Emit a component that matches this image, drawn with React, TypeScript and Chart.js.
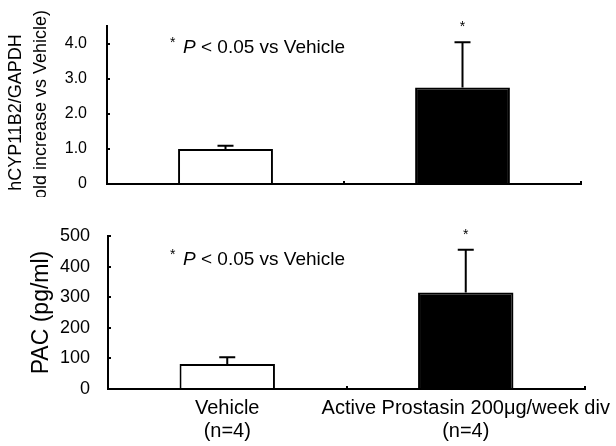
import React, { useEffect, useRef } from "react";
import { Chart, registerables } from "chart.js";

Chart.register(...registerables);

const FONT = "'Liberation Sans', Arial, sans-serif";

const categories: string[][] = [
  ["Vehicle", "(n=4)"],
  ["Active Prostasin 200\u03bcg/week div", "(n=4)"],
];
const mrnaValues = [1.0, 2.75];
const mrnaErrors = [0.09, 1.29];
const pacValues = [82, 315];
const pacErrors = [22, 140];
const significant = [false, true];
const barFills = ["#ffffff", "#000000"];
const mrnaTitle = ["hCYP11B2/GAPDH", "(hold increase vs Vehicle)"];
const pacTitle = "PAC (pg/ml)";
const noteStar = "*";
const noteP = "P";
const noteRest = " < 0.05 vs Vehicle";

// trailing spaces nudge the rotated, centred title slightly downward like the original
const TITLE_NUDGE = "\u00a0\u00a0\u00a0";

const errorBarPlugin = {
  id: "errorBars",
  afterDatasetsDraw(chart: any, _args: any, opts: any) {
    const { ctx } = chart;
    const meta = chart.getDatasetMeta(0);
    const yScale = chart.scales.y;
    ctx.save();
    ctx.strokeStyle = "#000";
    ctx.fillStyle = "#000";
    ctx.lineWidth = 2;
    meta.data.forEach((bar: any, i: number) => {
      const v = opts.values[i];
      const e = opts.errors[i];
      const yTop = yScale.getPixelForValue(v);
      const yErr = yScale.getPixelForValue(v + e);
      const x = bar.x;
      ctx.beginPath();
      ctx.moveTo(x, yTop);
      ctx.lineTo(x, yErr);
      ctx.moveTo(x - 8, yErr);
      ctx.lineTo(x + 8, yErr);
      ctx.stroke();
      if (opts.sig[i]) {
        ctx.font = `14px ${FONT}`;
        ctx.textAlign = "center";
        ctx.textBaseline = "alphabetic";
        ctx.fillText("*", x, yErr - 11);
      }
    });
    // significance note
    ctx.textAlign = "left";
    ctx.textBaseline = "alphabetic";
    ctx.font = `14px ${FONT}`;
    ctx.fillText(noteStar, opts.noteX, opts.noteY - 6);
    ctx.font = `italic 19px ${FONT}`;
    const px = opts.noteX + 13;
    ctx.fillText(noteP, px, opts.noteY);
    const pw = ctx.measureText(noteP).width;
    ctx.font = `19px ${FONT}`;
    ctx.fillText(noteRest, px + pw, opts.noteY);
    ctx.restore();
  },
};

function axisGrid() {
  return {
    display: true,
    drawOnChartArea: false,
    drawTicks: true,
    tickLength: -3,
    color: "#000",
    lineWidth: 2,
  };
}

function makeConfig(p: any) {
  return {
    type: "bar",
    data: {
      labels: categories,
      datasets: [
        {
          data: p.values,
          backgroundColor: barFills,
          borderColor: "#000",
          borderWidth: 2,
          borderSkipped: "start",
          barPercentage: 0.4,
          categoryPercentage: 1.0,
        },
      ],
    },
    options: {
      responsive: false,
      animation: false,
      layout: { padding: p.padding },
      plugins: {
        legend: { display: false },
        tooltip: { enabled: false },
        errorBars: {
          values: p.values,
          errors: p.errors,
          sig: significant,
          noteX: p.noteX,
          noteY: p.noteY,
        },
      },
      scales: {
        x: {
          offset: true,
          grid: { ...axisGrid(), offset: true },
          border: { color: "#000", width: 2 },
          ticks: {
            display: p.showX,
            color: "#000",
            font: { family: FONT, size: 20, lineHeight: 1.15 },
            padding: 11,
            maxRotation: 0,
            autoSkip: false,
          },
          afterFit: (s: any) => {
            s.height = p.xHeight;
            s.paddingLeft = 0;
            s.paddingRight = 0;
          },
        },
        y: {
          min: 0,
          max: p.max,
          grid: axisGrid(),
          border: { color: "#000", width: 2 },
          ticks: {
            stepSize: p.step,
            color: "#000",
            font: { family: FONT, size: p.tickSize },
            padding: p.tickPad,
            callback: p.tickFmt,
          },
          title: {
            display: true,
            text: p.title,
            color: "#000",
            font: { family: FONT, size: p.titleSize, lineHeight: p.titleLH },
            padding: { top: p.titlePad, bottom: 0 },
          },
          afterFit: (s: any) => {
            s.width = p.yWidth;
            s.paddingTop = 0;
            s.paddingBottom = 0;
          },
        },
      },
    },
    plugins: [errorBarPlugin],
  };
}

export default function App() {
  const topRef = useRef<HTMLCanvasElement>(null);
  const botRef = useRef<HTMLCanvasElement>(null);

  useEffect(() => {
    const top = new Chart(
      topRef.current as HTMLCanvasElement,
      makeConfig({
        values: mrnaValues,
        errors: mrnaErrors,
        padding: { top: 26, right: 35, left: 0, bottom: 0 },
        noteX: 170,
        noteY: 53,
        showX: false,
        xHeight: 13,
        max: 4.5,
        step: 0.5,
        tickSize: 16,
        tickPad: 23,
        tickFmt: (v: number) => (v === 0 ? "0" : Number.isInteger(v) ? v.toFixed(1) : ""),
        title: mrnaTitle.map((t) => t + TITLE_NUDGE),
        titleSize: 18,
        titleLH: 1.36,
        titlePad: 4,
        yWidth: 107,
      }) as any
    );
    const bot = new Chart(
      botRef.current as HTMLCanvasElement,
      makeConfig({
        values: pacValues,
        errors: pacErrors,
        padding: { top: 39, right: 115, left: 0, bottom: 0 },
        noteX: 170,
        noteY: 68,
        showX: true,
        xHeight: 57,
        max: 500,
        step: 100,
        tickSize: 18,
        tickPad: 21,
        tickFmt: (v: number) => String(v),
        title: pacTitle,
        titleSize: 23,
        titleLH: 1.2,
        titlePad: 28,
        yWidth: 108,
      }) as any
    );
    return () => {
      top.destroy();
      bot.destroy();
    };
  }, []);

  return (
    <div
      style={{
        position: "absolute",
        left: 0,
        top: 0,
        width: 616,
        height: 446,
        overflow: "hidden",
        background: "#fff",
      }}
    >
      <canvas
        ref={topRef}
        width={616}
        height={197}
        style={{ position: "absolute", left: 0, top: 0, display: "block" }}
      />
      <canvas
        ref={botRef}
        width={700}
        height={249}
        style={{ position: "absolute", left: 0, top: 197, display: "block" }}
      />
    </div>
  );
}
